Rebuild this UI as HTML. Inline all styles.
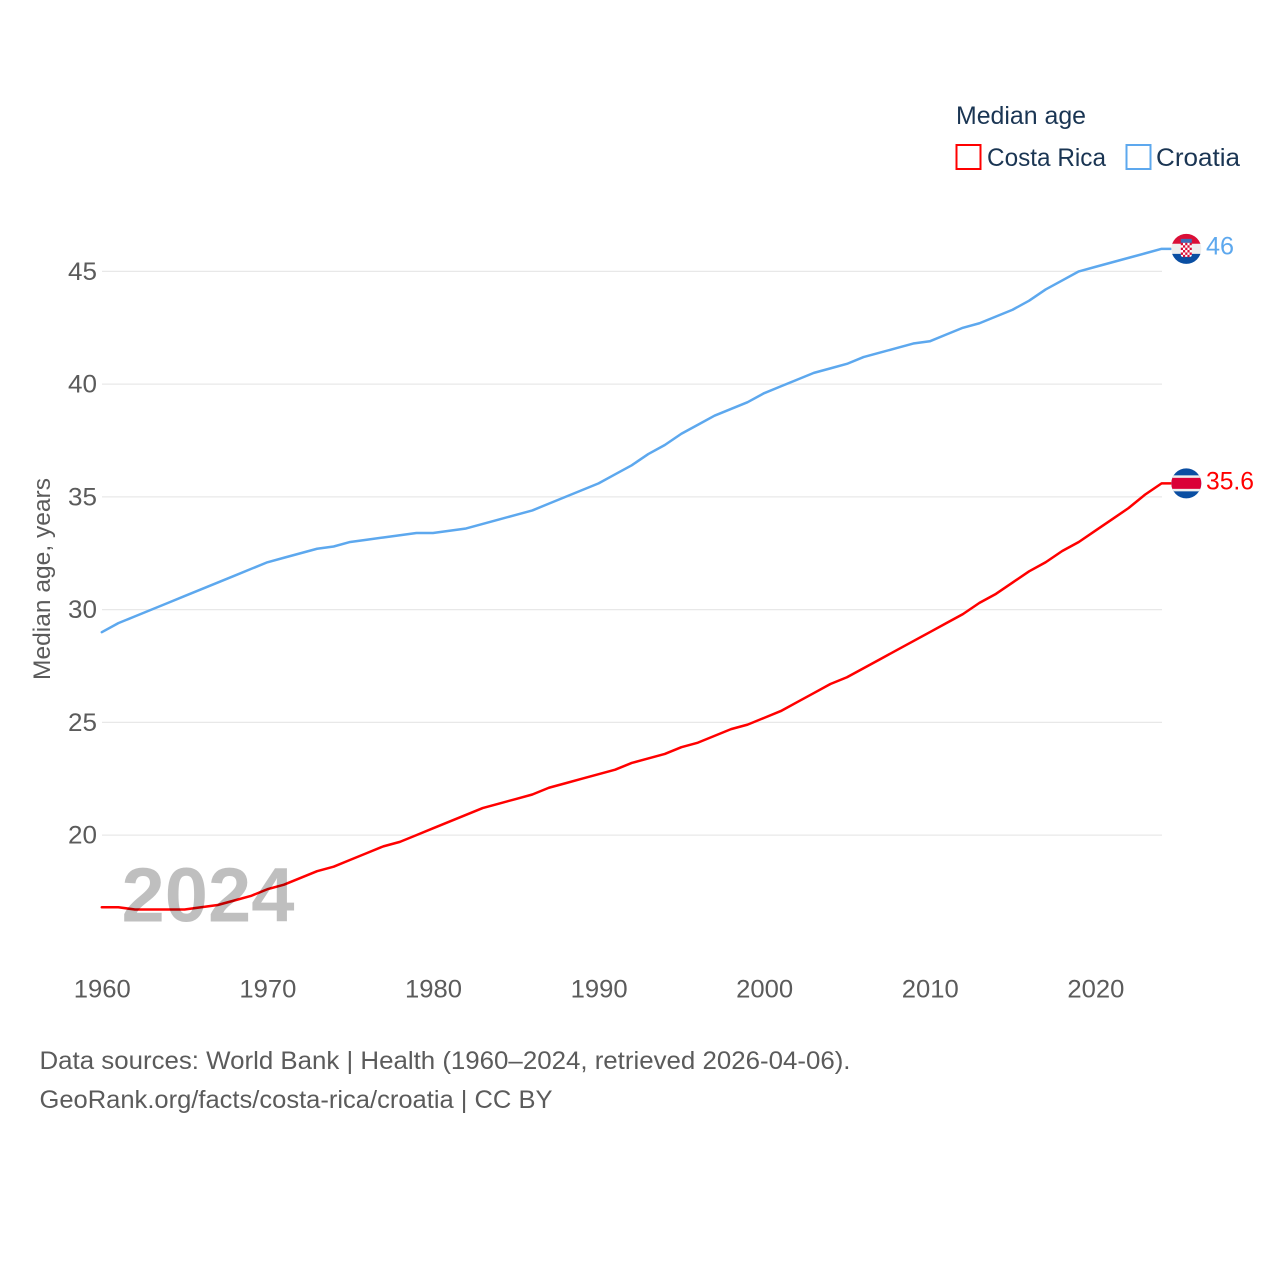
<!DOCTYPE html>
<html lang="en">
<head>
<meta charset="utf-8">
<title>Median age: Costa Rica and Croatia</title>
<style>
html,body{margin:0;padding:0;background:#fff;width:1280px;height:1280px;overflow:hidden}
svg{display:block}
text{font-family:"Liberation Sans",sans-serif}
</style>
</head>
<body>
<svg id="chart" xmlns="http://www.w3.org/2000/svg" width="1280" height="1280" viewBox="0 0 1280 1280">
  <rect width="1280" height="1280" fill="#fff"/>
  <g id="grid"></g>
  <g id="yticks"></g>
  <g id="xticks"></g>
  <text transform="translate(50,680) rotate(-90)" font-size="24" fill="#5b5b5b" textLength="202" lengthAdjust="spacingAndGlyphs">Median age, years</text>
  <g id="series"></g>
  <text x="121.5" y="921.5" font-size="77" font-weight="700" fill="#000" fill-opacity="0.25" textLength="173" lengthAdjust="spacingAndGlyphs">2024</text>
  <defs>
    <clipPath id="flag-clip-cr"><circle id="clip-cr" cx="1186" cy="483" r="15"/></clipPath>
    <clipPath id="flag-clip-hr"><circle id="clip-hr" cx="1186" cy="249" r="15"/></clipPath>
  </defs>
  <g id="flags"></g>
  <g>
    <text x="956" y="124" font-size="25" fill="#1a3553" textLength="130" lengthAdjust="spacingAndGlyphs">Median age</text>
    <rect x="956.5" y="145" width="24" height="24" fill="#fff" stroke="#ff0000" stroke-width="2"/>
    <text x="987" y="166" font-size="25" fill="#1a3553" textLength="119" lengthAdjust="spacingAndGlyphs">Costa Rica</text>
    <rect x="1126.5" y="145" width="24" height="24" fill="#fff" stroke="#5da8ee" stroke-width="2"/>
    <text x="1156" y="166" font-size="25" fill="#1a3553" textLength="84" lengthAdjust="spacingAndGlyphs">Croatia</text>
  </g>
  <text x="39.5" y="1069" font-size="25" fill="#5b5b5b" textLength="811" lengthAdjust="spacingAndGlyphs">Data sources: World Bank | Health (1960–2024, retrieved 2026-04-06).</text>
  <a><text x="39.5" y="1108" font-size="25" fill="#5b5b5b" textLength="513" lengthAdjust="spacingAndGlyphs">GeoRank.org/facts/costa-rica/croatia | CC BY</text></a>
</svg>
<script>
const years = [1960,1961,1962,1963,1964,1965,1966,1967,1968,1969,1970,1971,1972,1973,1974,1975,1976,1977,1978,1979,1980,1981,1982,1983,1984,1985,1986,1987,1988,1989,1990,1991,1992,1993,1994,1995,1996,1997,1998,1999,2000,2001,2002,2003,2004,2005,2006,2007,2008,2009,2010,2011,2012,2013,2014,2015,2016,2017,2018,2019,2020,2021,2022,2023,2024];
const costaRica = [16.8,16.8,16.7,16.7,16.7,16.7,16.8,16.9,17.1,17.3,17.6,17.8,18.1,18.4,18.6,18.9,19.2,19.5,19.7,20.0,20.3,20.6,20.9,21.2,21.4,21.6,21.8,22.1,22.3,22.5,22.7,22.9,23.2,23.4,23.6,23.9,24.1,24.4,24.7,24.9,25.2,25.5,25.9,26.3,26.7,27.0,27.4,27.8,28.2,28.6,29.0,29.4,29.8,30.3,30.7,31.2,31.7,32.1,32.6,33.0,33.5,34.0,34.5,35.1,35.6];
const croatia = [29.0,29.4,29.7,30.0,30.3,30.6,30.9,31.2,31.5,31.8,32.1,32.3,32.5,32.7,32.8,33.0,33.1,33.2,33.3,33.4,33.4,33.5,33.6,33.8,34.0,34.2,34.4,34.7,35.0,35.3,35.6,36.0,36.4,36.9,37.3,37.8,38.2,38.6,38.9,39.2,39.6,39.9,40.2,40.5,40.7,40.9,41.2,41.4,41.6,41.8,41.9,42.2,42.5,42.7,43.0,43.3,43.7,44.2,44.6,45.0,45.2,45.4,45.6,45.8,46.0];
const yTickValues = [20,25,30,35,40,45];
const xTickValues = [1960,1970,1980,1990,2000,2010,2020];

const NS = 'http://www.w3.org/2000/svg';
function xScale(year){ return 101.8 + (year - 1960) * (1161.6 - 101.8) / 64; }
function yScale(value){ return 835.1 - (value - 20) * (835.1 - 271.4) / 25; }
function make(tag, attrs, parent){
  const el = document.createElementNS(NS, tag);
  for (const k in attrs) el.setAttribute(k, attrs[k]);
  parent.appendChild(el);
  return el;
}

const gridG = document.getElementById('grid');
const yG = document.getElementById('yticks');
const xG = document.getElementById('xticks');
const seriesG = document.getElementById('series');
const flagsG = document.getElementById('flags');

yTickValues.forEach(function(v){
  const line = make('line', {x1:102, x2:1162, y1:yScale(v), y2:yScale(v), stroke:'#e8e8e8', 'stroke-width':1.2}, gridG);
  
  
  const t = make('text', {x:97, y:yScale(v)+8.5, 'text-anchor':'end', 'font-size':25, fill:'#5b5b5b', textLength:29, lengthAdjust:'spacingAndGlyphs'}, yG);
  t.textContent = String(v);
  
  
});

xTickValues.forEach(function(v){
  const t = make('text', {x:xScale(v)+0.5, y:997.5, 'text-anchor':'middle', 'font-size':25, fill:'#5b5b5b', textLength:57, lengthAdjust:'spacingAndGlyphs'}, xG);
  t.textContent = String(v);
  
  
});

function drawSeries(values, color){
  let d = '';
  values.forEach(function(v, i){
    d += (i ? 'L' : 'M') + xScale(years[i]).toFixed(2) + ' ' + yScale(v).toFixed(2);
  });
  const last = values[values.length - 1];
  d += 'L' + (xScale(years[years.length - 1]) + 9) + ' ' + yScale(last).toFixed(2);
  return make('path', {d:d, fill:'none', stroke:color, 'stroke-width':2.5, 'stroke-linejoin':'round', 'stroke-linecap':'round'}, seriesG);
}
const crLine = drawSeries(costaRica, '#ff0000');


const hrLine = drawSeries(croatia, '#5da8ee');



const crEndY = yScale(costaRica[costaRica.length - 1]);
const hrEndY = yScale(croatia[croatia.length - 1]);
const flagX = 1186.3;
document.getElementById('clip-cr').setAttribute('cx', flagX);
document.getElementById('clip-hr').setAttribute('cx', flagX);
document.getElementById('clip-cr').setAttribute('cy', crEndY);
document.getElementById('clip-hr').setAttribute('cy', hrEndY);

/* Costa Rica flag */
const crFlag = make('g', {'clip-path':'url(#flag-clip-cr)'}, flagsG);


make('rect', {x:flagX-16, y:crEndY-16, width:32, height:32, fill:'#0a4ea2'}, crFlag);
make('rect', {x:flagX-16, y:crEndY-8, width:32, height:16, fill:'#eeeeee'}, crFlag);
make('rect', {x:flagX-16, y:crEndY-5.5, width:32, height:11, fill:'#da0037'}, crFlag);

/* Croatia flag */
const hrFlag = make('g', {'clip-path':'url(#flag-clip-hr)'}, flagsG);


make('rect', {x:flagX-16, y:hrEndY-16, width:32, height:11, fill:'#da0f37'}, hrFlag);
make('rect', {x:flagX-16, y:hrEndY-5, width:32, height:10, fill:'#eeeeee'}, hrFlag);
make('rect', {x:flagX-16, y:hrEndY+5, width:32, height:11, fill:'#0a4ea2'}, hrFlag);
make('rect', {x:flagX-5.5, y:hrEndY-10, width:11, height:4, fill:'#3a6fb8'}, hrFlag);
make('rect', {x:flagX-5.5, y:hrEndY-6, width:11, height:14, rx:2, fill:'#fff'}, hrFlag);
for (let r = 0; r < 6; r++) {
  for (let c = 0; c < 5; c++) {
    if ((r + c) % 2 === 0) {
      make('rect', {x:flagX-5.5+c*2.2, y:hrEndY-6+r*2.4, width:2.2, height:2.4, fill:'#da0f37'}, hrFlag);
    }
  }
}

const crLabel = make('text', {x:1206, y:crEndY+6, 'font-size':25, fill:'#ff0000', textLength:48, lengthAdjust:'spacingAndGlyphs'}, flagsG);
crLabel.textContent = String(costaRica[costaRica.length - 1]);


const hrLabel = make('text', {x:1206, y:hrEndY+5.5, 'font-size':25, fill:'#5da8ee', textLength:28, lengthAdjust:'spacingAndGlyphs'}, flagsG);
hrLabel.textContent = String(croatia[croatia.length - 1]);


</script>
</body>
</html>
